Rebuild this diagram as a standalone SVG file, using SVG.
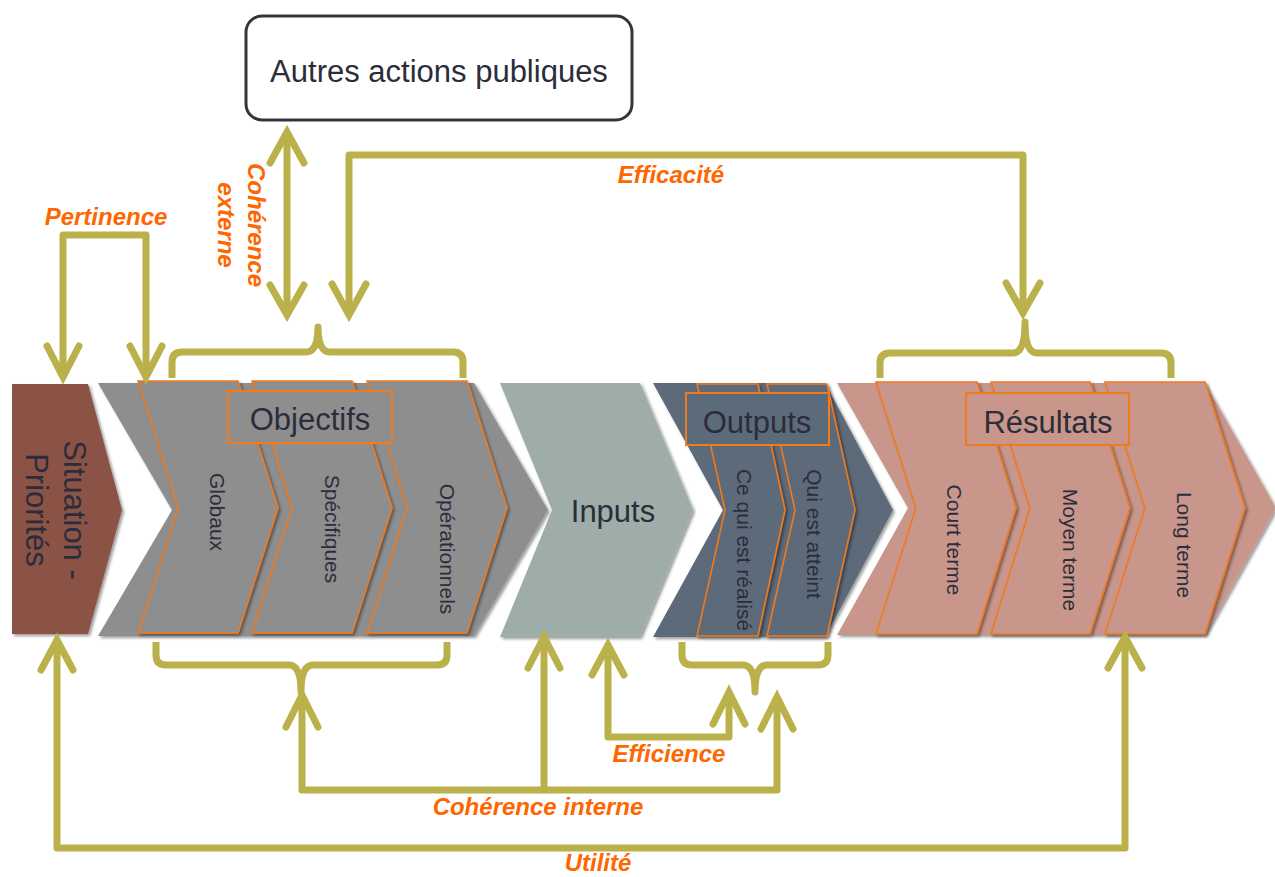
<svg xmlns="http://www.w3.org/2000/svg" width="1275" height="877" viewBox="0 0 1275 877">
<style>
text{font-family:"Liberation Sans",Arial,sans-serif;}
.dark{fill:#2b2d3a;}
.big{font-size:31px;}
.sub{font-size:21px;}
.lbl{font-size:24px;font-weight:bold;font-style:italic;fill:#ff6600;}
.sub-chev{stroke:#f07a1e;stroke-width:1.6;stroke-linejoin:miter;}
.lbox{stroke:#f07a1e;stroke-width:2;}
.con{fill:none;stroke:#bab14a;stroke-width:7;stroke-linejoin:round;stroke-linecap:round;}
.ah{fill:none;stroke:#bab14a;stroke-width:7;stroke-linejoin:miter;stroke-linecap:round;}
.brace{fill:none;stroke:#bab14a;stroke-width:7;stroke-linecap:butt;stroke-linejoin:round;}
</style>
<defs>
<filter id="sh" x="-10%" y="-10%" width="130%" height="130%">
<feDropShadow dx="2" dy="2" stdDeviation="1.5" flood-color="#000" flood-opacity="0.4"/>
</filter>
</defs>
<rect width="1275" height="877" fill="#ffffff"/>

<g id="autres-actions">
<rect x="246" y="16" width="386" height="104" rx="16" fill="#ffffff" stroke="#33343c" stroke-width="3"/>
<text x="439" y="82" text-anchor="middle" class="dark" font-size="31">Autres actions publiques</text>
</g>

<g id="situation">
<polygon points="12,384 88,384 122,510 88,634 12,634" fill="#8a5244" filter="url(#sh)"/>
<text transform="translate(64,510) rotate(90)" text-anchor="middle" class="dark big"><tspan x="0" y="0">Situation -</tspan><tspan x="0" y="38">Priorités</tspan></text>
</g>

<g id="objectifs">
<polygon points="98,383 474,383 548,510 474,636 98,636 172,510" fill="#8e8e8e" filter="url(#sh)"/>
<polygon class="sub-chev" points="138,381 238,381 278,508 238,633 138,633 178,508" fill="#8e8e8e" filter="url(#sh)"/>
<polygon class="sub-chev" points="252,381 352,381 392,508 352,633 252,633 292,508" fill="#8e8e8e" filter="url(#sh)"/>
<polygon class="sub-chev" points="367,381 467,381 507,508 467,633 367,633 407,508" fill="#8e8e8e" filter="url(#sh)"/>
<rect class="lbox" x="228" y="391" width="164" height="52" fill="#8e8e8e"/>
<text x="310" y="430" text-anchor="middle" class="dark big">Objectifs</text>
<text transform="translate(210,512) rotate(90)" text-anchor="middle" class="dark sub">Globaux</text>
<text transform="translate(325,529) rotate(90)" text-anchor="middle" class="dark sub">Spécifiques</text>
<text transform="translate(440,549) rotate(90)" text-anchor="middle" class="dark sub">Opérationnels</text>
</g>

<g id="inputs">
<polygon points="500,383 640,383 693,510 640,637 500,637 552,510" fill="#9fada8" filter="url(#sh)"/>
<text x="613" y="522" text-anchor="middle" class="dark big">Inputs</text>
</g>

<g id="outputs">
<polygon points="653,383 825,383 893,510 825,637 653,637 723,510" fill="#5c6b7a" filter="url(#sh)"/>
<polygon class="sub-chev" points="697,384 758,384 785,510 758,636 697,636 725,510" fill="#5c6b7a" filter="url(#sh)"/>
<polygon class="sub-chev" points="767,384 827,384 855,510 827,636 767,636 795,510" fill="#5c6b7a" filter="url(#sh)"/>
<rect class="lbox" x="686" y="393" width="143" height="52" fill="#5c6b7a"/>
<text x="757" y="433" text-anchor="middle" class="dark big">Outputs</text>
<text transform="translate(737,550) rotate(90)" text-anchor="middle" class="dark sub">Ce qui est réalisé</text>
<text transform="translate(807,534) rotate(90)" text-anchor="middle" class="dark sub">Qui est atteint</text>
</g>

<g id="resultats">
<polygon points="837,383 1205,383 1276,508 1205,635 837,635 908,508" fill="#c9968b" filter="url(#sh)"/>
<polygon class="sub-chev" points="876,382 977,382 1016,508 977,634 876,634 916,508" fill="#c9968b" filter="url(#sh)"/>
<polygon class="sub-chev" points="991,382 1090,382 1130,508 1090,634 991,634 1030,508" fill="#c9968b" filter="url(#sh)"/>
<polygon class="sub-chev" points="1105,382 1205,382 1245,508 1205,634 1105,634 1145,508" fill="#c9968b" filter="url(#sh)"/>
<rect class="lbox" x="966" y="393" width="163" height="52" fill="#c9968b"/>
<text x="1048" y="433" text-anchor="middle" class="dark big">Résultats</text>
<text transform="translate(947,540) rotate(90)" text-anchor="middle" class="dark sub">Court terme</text>
<text transform="translate(1063,550) rotate(90)" text-anchor="middle" class="dark sub">Moyen terme</text>
<text transform="translate(1177,545) rotate(90)" text-anchor="middle" class="dark sub">Long terme</text>
</g>

<g id="braces">
<path class="brace" d="M172,378 V362 Q172,352 182,352 H306 Q318,352 318,327 Q318,352 330,352 H453 Q463,352 463,362 V378"/>
<path class="brace" d="M880,378 V363 Q880,353 890,353 H1013 Q1025,353 1025,322 Q1025,353 1037,353 H1161 Q1171,353 1171,363 V378"/>
<path class="brace" d="M156,642 V655 Q156,665 166,665 H289 Q301,665 301,692 Q301,665 313,665 H437 Q447,665 447,655 V642"/>
<path class="brace" d="M682,642 V655 Q682,665 692,665 H743 Q755,665 755,692 Q755,665 767,665 H818 Q828,665 828,655 V642"/>
</g>

<g id="connectors">
<path class="con" d="M63,372 V235 H146 V372"/>
<polyline class="ah" points="47,346 63,377 79,346"/>
<polyline class="ah" points="130,346 146,377 162,346"/>

<path class="con" d="M287,138 V309"/>
<polyline class="ah" points="270,163 287,132 304,163"/>
<polyline class="ah" points="270,285 287,315 304,285"/>

<path class="con" d="M349,309 V155 H1023 V308"/>
<polyline class="ah" points="332,284 349,315 366,284"/>
<polyline class="ah" points="1006,283 1023,313 1040,283"/>

<path class="con" d="M302,701 V790 H777 V703"/>
<path class="con" d="M544,790 V643"/>
<polyline class="ah" points="286,727 302,695 318,727"/>
<polyline class="ah" points="528,668 544,637 560,668"/>
<polyline class="ah" points="761,729 777,697 793,729"/>

<path class="con" d="M608,651 V737 H729 V698"/>
<polyline class="ah" points="592,675 608,645 624,675"/>
<polyline class="ah" points="713,724 729,692 745,724"/>

<path class="con" d="M57,646 V848 H1125 V643"/>
<polyline class="ah" points="41,670 57,640 73,670"/>
<polyline class="ah" points="1108,668 1125,637 1142,668"/>
</g>

<g id="labels">
<text x="106" y="225" text-anchor="middle" class="lbl">Pertinence</text>
<text transform="translate(248,225) rotate(90)" text-anchor="middle" class="lbl"><tspan x="0" y="0">Cohérence</tspan><tspan x="0" y="30">externe</tspan></text>
<text x="671" y="183" text-anchor="middle" class="lbl">Efficacité</text>
<text x="669" y="762" text-anchor="middle" class="lbl">Efficience</text>
<text x="538" y="815" text-anchor="middle" class="lbl">Cohérence interne</text>
<text x="598" y="871" text-anchor="middle" class="lbl">Utilité</text>
</g>
</svg>
